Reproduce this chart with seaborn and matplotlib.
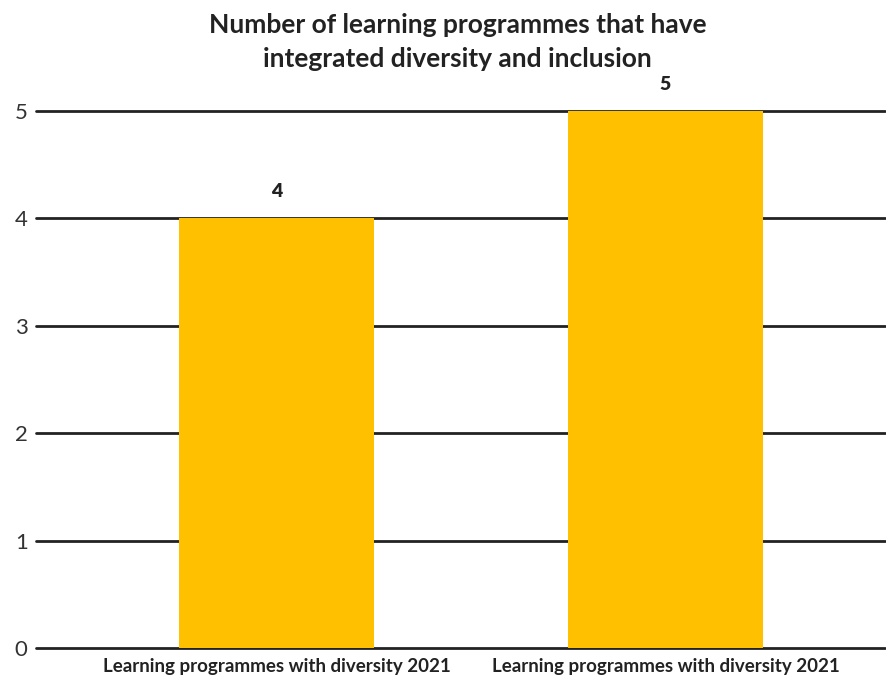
import matplotlib
matplotlib.use("Agg")
import matplotlib.pyplot as plt
import seaborn as sns
import pandas as pd

categories = ["Learning programmes with diversity 2021",
              "Learning programmes with diversity 2021"]
values = [4, 5]
yticks = [0, 1, 2, 3, 4, 5]

sns.set_theme(style="white")
plt.rcParams["font.family"] = ["Lato", "DejaVu Sans"]

df = pd.DataFrame({"pos": list(range(len(values))), "value": values})

fig = plt.figure(figsize=(8.87, 6.8), dpi=100)
ax = fig.add_axes([0.0406, 0.047, 0.957, 0.790])

for y in yticks:
    ax.axhline(y, color="#222222", lw=2.0, zorder=0, clip_on=False)

sns.barplot(data=df, x="pos", y="value", color="#FFC000", saturation=1,
            width=0.5, ax=ax, zorder=2, linewidth=0, edgecolor="none")

for p, v in zip(df["pos"], df["value"]):
    ax.annotate(str(v), (p, v), xytext=(0, 13), textcoords="offset points",
                ha="center", va="bottom", fontsize=14, fontweight="heavy",
                color="#222222", annotation_clip=False)

ax.set_xlim(-0.618, 1.564)
ax.set_ylim(0, 5)
ax.set_yticks(yticks)
ax.set_yticklabels([str(t) for t in yticks], fontsize=16, fontweight="normal",
                   color="#333333")
ax.set_xticks(df["pos"])
ax.set_xticklabels(categories, fontsize=13.5, fontweight="bold", color="#222222")
ax.tick_params(axis="y", length=0, pad=6)
ax.tick_params(axis="x", length=0, pad=7)
ax.set_xlabel("")
ax.set_ylabel("")
for s in ax.spines.values():
    s.set_visible(False)

fig.text(0.516, 0.981, "Number of learning programmes that have\nintegrated diversity and inclusion",
         ha="center", va="top", fontsize=19, fontweight="bold", color="#222222",
         linespacing=1.5)

fig.savefig("out.png", dpi=100)
